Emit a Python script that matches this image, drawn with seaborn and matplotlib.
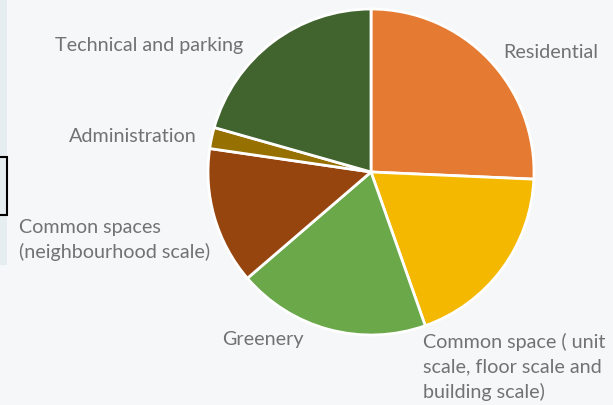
import seaborn as sns
import matplotlib.pyplot as plt
from matplotlib.patches import Rectangle

# share of floor area per function (%)
categories = ["Residential",
              "Common space ( unit\nscale, floor scale and\nbuilding scale)",
              "Greenery",
              "Common spaces\n(neighbourhood scale)",
              "Administration",
              "Technical and parking"]
shares = [25.7, 18.9, 19.1, 13.6, 2.1, 20.6]
colors = ["#e57b32", "#f5b800", "#6aa84a", "#97450f", "#967000", "#41632e"]

BG = "#f6f7f9"
TEXT = "#727272"

sns.set_style("white")
plt.rcParams["font.family"] = ["Lato", "DejaVu Sans"]

W, H = 613, 405
fig = plt.figure(figsize=(W / 100, H / 100), dpi=100)
fig.patch.set_facecolor(BG)

# left edge decoration
fig.add_artist(Rectangle((0, 1 - 265 / H), 7 / W, 265 / H, transform=fig.transFigure,
                         facecolor="#e6edf1", edgecolor="none"))
fig.add_artist(Rectangle((-2 / W, 1 - 215 / H), 9 / W, 58 / H, transform=fig.transFigure,
                         facecolor="none", edgecolor="black", linewidth=1.5))

cx, cy, r = 371, 172, 163
ax = fig.add_axes([(cx - r) / W, (H - cy - r) / H, 2 * r / W, 2 * r / H])
ax.set_facecolor("none")
ax.pie(shares, colors=colors, startangle=90, counterclock=False, radius=1,
       wedgeprops=dict(edgecolor="white", linewidth=2))
ax.set_xlim(-1, 1)
ax.set_ylim(-1, 1)
ax.axis("off")

# label placement (pixels from top-left)
label_pos = [(503, 52, "left"), (423, 367, "left"), (222, 340, "left"),
             (19, 240, "left"), (197, 136, "right"), (243, 46, "right")]
for name, (x, y, ha) in zip(categories, label_pos):
    fig.text(x / W, 1 - y / H, name, ha=ha, va="center", fontsize=14.2,
             color=TEXT, linespacing=1.5)

fig.savefig("out.png", dpi=100, facecolor=BG)
